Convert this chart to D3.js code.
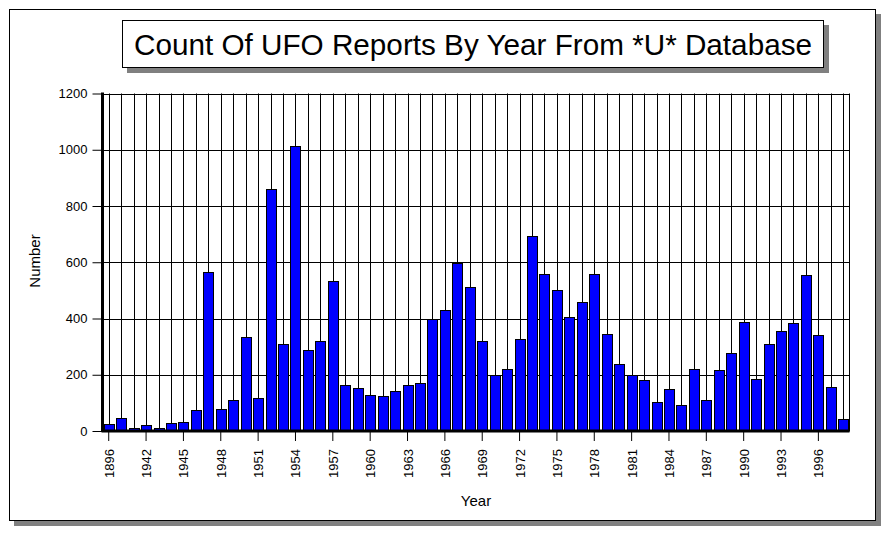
<!DOCTYPE html>
<html><head><meta charset="utf-8">
<script src="https://cdn.jsdelivr.net/npm/d3@7"></script>
<style>body{margin:0;background:#fff;}svg{display:block;}</style>
</head><body>
<svg id="c" width="889" height="535"></svg>
<script>
const years = ["1896","1897","1941","1942","1943","1944","1945","1946","1947","1948","1949","1950","1951","1952","1953","1954","1955","1956","1957","1958","1959","1960","1961","1962","1963","1964","1965","1966","1967","1968","1969","1970","1971","1972","1973","1974","1975","1976","1977","1978","1979","1980","1981","1982","1983","1984","1985","1986","1987","1988","1989","1990","1991","1992","1993","1994","1995","1996","1997","1998"];
const counts = [24,45,10,20,10,28,31,73,567,77,112,336,116,860,308,1015,287,319,532,162,152,127,123,141,162,169,398,429,598,511,319,198,219,326,695,557,500,404,457,560,344,237,198,180,102,148,91,219,109,216,276,386,184,308,354,383,553,340,155,41];
const yTicks = [0,200,400,600,800,1000,1200];
const labeledYears = ["1896","1942","1945","1948","1951","1954","1957","1960","1963","1966","1969","1972","1975","1978","1981","1984","1987","1990","1993","1996"];
const titleText = "Count Of UFO Reports By Year From *U* Database";

const svg = d3.select("#c");
const font = "'Liberation Sans', Arial, sans-serif";
const L = 102.5, R = 849.5, T = 93.5, B = 431;

// outer frame with shadow
svg.append("rect").attr("x",14).attr("y",14).attr("width",867).attr("height",512).attr("fill","#808080");
svg.append("rect").attr("x",9.5).attr("y",9.5).attr("width",866).attr("height",511).attr("fill","#fff").attr("stroke","#000").attr("stroke-width",1);

// title box
svg.append("rect").attr("x",127).attr("y",25).attr("width",702).attr("height",48).attr("fill","#808080");
svg.append("rect").attr("x",122.5).attr("y",20.5).attr("width",701).attr("height",47).attr("fill","#fff").attr("stroke","#000").attr("stroke-width",1);
svg.append("text").attr("x",134).attr("y",55).attr("font-family",font).attr("font-size",29)
  .attr("textLength",678).attr("lengthAdjust","spacingAndGlyphs").attr("fill","#000").text(titleText);

const x = d3.scaleBand().domain(years).range([L, R]).paddingInner(0.2).paddingOuter(0.1);
const y = d3.scaleLinear().domain([0,1200]).range([B, T]);

// horizontal gridlines
svg.append("g").selectAll("line").data(yTicks).join("line")
  .attr("x1",L).attr("x2",R).attr("y1",d=>Math.round(y(d))+0.5).attr("y2",d=>Math.round(y(d))+0.5)
  .attr("stroke","#000").attr("stroke-width",1);
// vertical gridlines at category centers
svg.append("g").selectAll("line").data(years).join("line")
  .attr("x1",d=>Math.round(x(d)+x.bandwidth()/2)+0.5).attr("x2",d=>Math.round(x(d)+x.bandwidth()/2)+0.5)
  .attr("y1",T).attr("y2",B).attr("stroke","#000").attr("stroke-width",1);
// right border
svg.append("line").attr("x1",R).attr("x2",R).attr("y1",T).attr("y2",B).attr("stroke","#000");

// bars
svg.append("g").selectAll("rect").data(years).join("rect")
  .attr("x",d=>Math.round(x(d))+0.5).attr("width",Math.round(x.bandwidth()))
  .attr("y",(d,i)=>Math.round(y(counts[i]))+0.5).attr("height",(d,i)=>B-Math.round(y(counts[i])))
  .attr("fill","#0000ff").attr("stroke","#000").attr("stroke-width",1);

// y axis
const ya = svg.append("g").attr("transform",`translate(${L},0)`)
  .call(d3.axisLeft(y).tickValues(yTicks).tickSize(10).tickPadding(5).tickFormat(d3.format("d")));
ya.select(".domain").remove();
ya.selectAll("text").attr("font-family",font).attr("font-size",13).attr("fill","#000");
ya.selectAll("line").attr("stroke","#000");

// x axis
const xa = svg.append("g").attr("transform",`translate(0,${B})`)
  .call(d3.axisBottom(x).tickValues(labeledYears).tickSize(10).tickPadding(0));
xa.select(".domain").remove();
xa.selectAll("line").attr("stroke","#000");
xa.selectAll("text").attr("font-family",font).attr("font-size",13).attr("fill","#000")
  .attr("text-anchor","end").attr("transform","translate(5,18) rotate(-90)").attr("dy",null).attr("y",0).attr("x",0);

// thick axis lines
svg.append("line").attr("x1",L).attr("x2",L).attr("y1",T-1).attr("y2",B+1).attr("stroke","#000").attr("stroke-width",3);
svg.append("line").attr("x1",L-1).attr("x2",R).attr("y1",B).attr("y2",B).attr("stroke","#000").attr("stroke-width",3);

// axis titles
svg.append("text").attr("transform","translate(40,261) rotate(-90)").attr("text-anchor","middle")
  .attr("font-family",font).attr("font-size",15).attr("fill","#000").text("Number");
svg.append("text").attr("x",476).attr("y",506).attr("text-anchor","middle")
  .attr("font-family",font).attr("font-size",15).attr("fill","#000").text("Year");
</script>
</body></html>
